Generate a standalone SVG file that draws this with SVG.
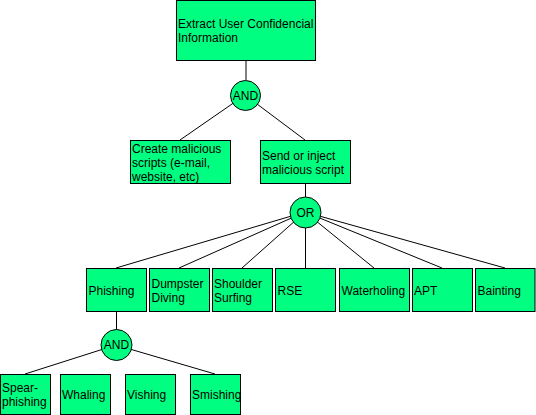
<svg xmlns="http://www.w3.org/2000/svg" width="536" height="415" viewBox="0 0 536 415">
<style>
.n{fill:#00FF80;stroke:#000;stroke-width:1}
.t{font-family:"Liberation Sans",Arial,sans-serif;font-size:12px;fill:#000}
.c{text-anchor:middle}
.e{stroke:#000;stroke-width:1;fill:none}
</style>
<rect width="536" height="415" fill="#fff"/>
<g id="connectors">
<line class="e" x1="246" y1="60.5" x2="246" y2="80"/>
<line class="e" x1="245" y1="95" x2="180" y2="140"/>
<line class="e" x1="245" y1="95" x2="305" y2="140"/>
<line class="e" x1="305.5" y1="184" x2="305.5" y2="197"/>
<line class="e" x1="305" y1="212" x2="116" y2="268"/>
<line class="e" x1="305" y1="212" x2="179" y2="268"/>
<line class="e" x1="305" y1="212" x2="242" y2="268"/>
<line class="e" x1="305.5" y1="212" x2="305.5" y2="268"/>
<line class="e" x1="305" y1="212" x2="374" y2="268"/>
<line class="e" x1="305" y1="212" x2="442" y2="268"/>
<line class="e" x1="305" y1="212" x2="505" y2="268"/>
<line class="e" x1="116.5" y1="312" x2="116.5" y2="330"/>
<line class="e" x1="116" y1="345" x2="25" y2="374"/>
<line class="e" x1="116" y1="345" x2="215" y2="374"/>
</g>
<g id="root"><rect class="n" x="176.5" y="0.5" width="139" height="60"/><text class="t" x="178" y="27.5">Extract User Confidencial</text><text class="t" x="178" y="41.5">Information</text></g>
<g id="and1"><circle class="n" cx="245.5" cy="95.5" r="15"/><text class="t c" x="245.5" y="99.5">AND</text></g>
<g id="create"><rect class="n" x="130.5" y="140.5" width="100" height="43"/><text class="t" x="132" y="152.5">Create malicious</text><text class="t" x="132" y="166.5">scripts (e-mail,</text><text class="t" x="132" y="180.5">website, etc)</text></g>
<g id="send"><rect class="n" x="260.5" y="140.5" width="90" height="43"/><text class="t" x="262" y="159.5">Send or inject</text><text class="t" x="262" y="173.5">malicious script</text></g>
<g id="or"><circle class="n" cx="305.5" cy="212.5" r="15.5"/><text class="t c" x="305.5" y="216.5">OR</text></g>
<g id="phishing"><rect class="n" x="86.5" y="268.5" width="60" height="43"/><text class="t" x="88.5" y="294.5">Phishing</text></g>
<g id="dumpster"><rect class="n" x="149.5" y="268.5" width="60" height="43"/><text class="t" x="151.5" y="287.5">Dumpster</text><text class="t" x="151.5" y="301.5">Diving</text></g>
<g id="shoulder"><rect class="n" x="212.5" y="268.5" width="60" height="43"/><text class="t" x="214" y="287.5">Shoulder</text><text class="t" x="214" y="301.5">Surfing</text></g>
<g id="rse"><rect class="n" x="275.5" y="268.5" width="60" height="43"/><text class="t" x="277.5" y="294.5">RSE</text></g>
<g id="waterholing"><rect class="n" x="339.5" y="268.5" width="70" height="43"/><text class="t" x="341.5" y="294.5">Waterholing</text></g>
<g id="apt"><rect class="n" x="412.5" y="268.5" width="60" height="43"/><text class="t" x="414" y="294.5">APT</text></g>
<g id="bainting"><rect class="n" x="475.5" y="268.5" width="59.5" height="43"/><text class="t" x="477.5" y="294.5">Bainting</text></g>
<g id="and2"><circle class="n" cx="116.5" cy="345" r="15.5"/><text class="t c" x="116.5" y="349">AND</text></g>
<g id="spear"><rect class="n" x="0.5" y="374.5" width="50" height="40"/><text class="t" x="2" y="391.5">Spear-</text><text class="t" x="2" y="405.5">phishing</text></g>
<g id="whaling"><rect class="n" x="60.5" y="374.5" width="50" height="40"/><text class="t" x="62" y="398.5">Whaling</text></g>
<g id="vishing"><rect class="n" x="125.5" y="374.5" width="50" height="40"/><text class="t" x="127" y="398.5">Vishing</text></g>
<g id="smishing"><rect class="n" x="190.5" y="374.5" width="50" height="40"/><text class="t" x="192" y="398.5">Smishing</text></g>
</svg>
